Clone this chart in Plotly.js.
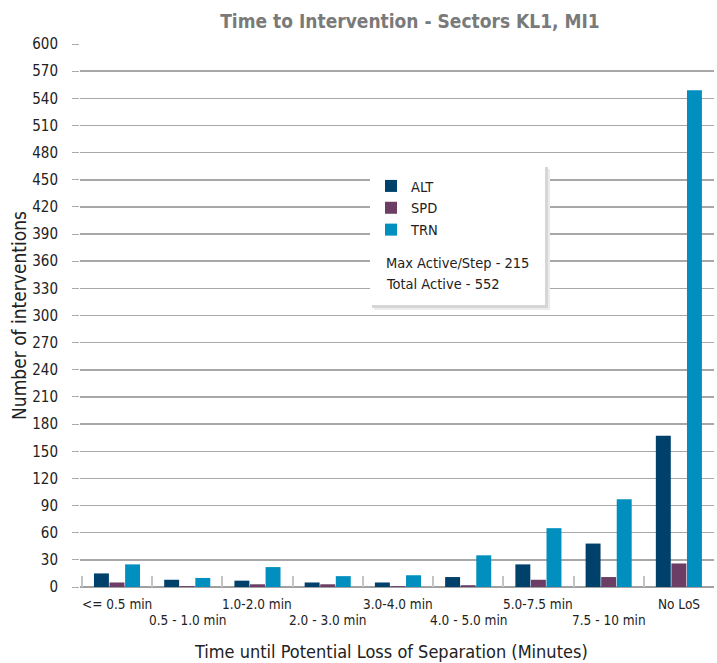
<!DOCTYPE html>
<html>
<head>
<meta charset="utf-8">
<script src="https://cdn.plot.ly/plotly-3.0.1.min.js"></script>
<style>
html,body{margin:0;padding:0;background:#fff;}
#chart{width:717px;height:663px;}
</style>
</head>
<body>
<div id="chart"></div>
<script>
const categories = ["<= 0.5 min", "0.5 - 1.0 min", "1.0-2.0 min", "2.0 - 3.0 min", "3.0-4.0 min", "4.0 - 5.0 min", "5.0-7.5 min", "7.5 - 10 min", "No LoS"];
const altValues = [15, 8, 7, 5, 5, 11, 25, 48, 167];
const spdValues = [5, 1, 3, 3, 1, 2, 8, 11, 26];
const trnValues = [25, 10, 22, 12, 13, 35, 65, 97, 549];
const seriesNames = ["ALT", "SPD", "TRN"];
const yTicks = [0, 30, 60, 90, 120, 150, 180, 210, 240, 270, 300, 330, 360, 390, 420, 450, 480, 510, 540, 570, 600];
const noteLines = ["Max Active/Step - 215", "Total Active - 552"];

const FONT = "DejaVu Sans Condensed, DejaVu Sans, sans-serif";
const colors = ["#00416b", "#6c3d65", "#008fbe"];
const allValues = [altValues, spdValues, trnValues];

const traces = seriesNames.map((n, i) => ({
  type: "bar",
  name: n,
  x: categories,
  y: allValues[i],
  marker: {color: colors[i], line: {width: 0}},
  hoverinfo: "x+y+name"
}));

const catAnnotations = categories.map((c, i) => ({
  x: c, xref: "x", y: 0, yref: "paper",
  text: c.replace("<", "&lt;"),
  showarrow: false,
  xanchor: "center", yanchor: "top",
  yshift: (i % 2 === 0) ? -7 : -23,
  font: {family: FONT, size: 13.5, color: "#222"}
}));

const L = 80, R = 3, T = 44, B = 76;
const PW = 717 - L - R, PH = 663 - T - B;
const px = v => (v - L) / PW;
const py = v => (663 - B - v) / PH;

const noteAnnotations = noteLines.map((t, i) => ({
  x: px(384), y: py(263 + i * 21), xref: "paper", yref: "paper",
  text: t, align: "left", showarrow: false,
  xanchor: "left", yanchor: "middle",
  font: {family: FONT, size: 14.5, color: "#222"}
}));

const layout = {
  width: 717, height: 663,
  margin: {l: L, r: R, t: T, b: B, pad: 0},
  paper_bgcolor: "#fff", plot_bgcolor: "#fff",
  font: {family: FONT, size: 14, color: "#222"},
  title: {
    text: "<b>Time to Intervention - Sectors KL1, MI1</b>",
    font: {family: FONT, size: 19, color: "#7a7a7a"},
    x: 410 / 717, xanchor: "center", y: 0.968, yanchor: "middle"
  },
  barmode: "group",
  bargap: 0.335,
  bargroupgap: 0.04,
  showlegend: true,
  legend: {
    x: px(371), y: py(170), xanchor: "left", yanchor: "top",
    bgcolor: "rgba(0,0,0,0)",
    font: {family: FONT, size: 14.5, color: "#222"},
    itemwidth: 30, tracegroupgap: 0
  },
  xaxis: {
    type: "category",
    showticklabels: false,
    ticks: "inside", tickson: "boundaries", ticklen: 11, tickwidth: 2, tickcolor: "#c4c4c4",
    showgrid: false, zeroline: false,
    showline: false,
    automargin: false
  },
  yaxis: {
    range: [0, 600],
    tickvals: yTicks,
    ticktext: yTicks.map(String),
    ticks: "outside", ticklen: 7, tickcolor: "#aaa", tickwidth: 1,
    showgrid: true, gridcolor: "#a8a8a8", gridwidth: 1.5,
    zeroline: true, zerolinecolor: "#a0a0a0", zerolinewidth: 2.5,
    showline: false,
    tickfont: {family: FONT, size: 15, color: "#222"},
    ticklabelstandoff: 11,
    title: {text: "Number of interventions", font: {family: FONT, size: 19, color: "#222"}, standoff: 0},
    automargin: false
  },
  shapes: [
    {type: "rect", xref: "paper", yref: "paper", layer: "above",
     x0: px(374), x1: px(550), y0: py(310), y1: py(169),
     fillcolor: "#ececec", line: {width: 0}},
    {type: "rect", xref: "paper", yref: "paper", layer: "above",
     x0: px(372), x1: px(548), y0: py(308), y1: py(167),
     fillcolor: "#d6d6d6", line: {width: 0}},
    {type: "rect", xref: "paper", yref: "paper", layer: "above",
     x0: px(370), x1: px(545), y0: py(305), y1: py(165),
     fillcolor: "#ffffff", line: {width: 0}}
  ],
  annotations: catAnnotations.concat(noteAnnotations, [
    {x: px(391), y: py(651), xref: "paper", yref: "paper",
     text: "Time until Potential Loss of Separation (Minutes)", showarrow: false,
     xanchor: "center", yanchor: "middle",
     font: {family: FONT, size: 18, color: "#222"}}
  ])
};

Plotly.newPlot("chart", traces, layout, {displayModeBar: false, staticPlot: true});
</script>
</body>
</html>
